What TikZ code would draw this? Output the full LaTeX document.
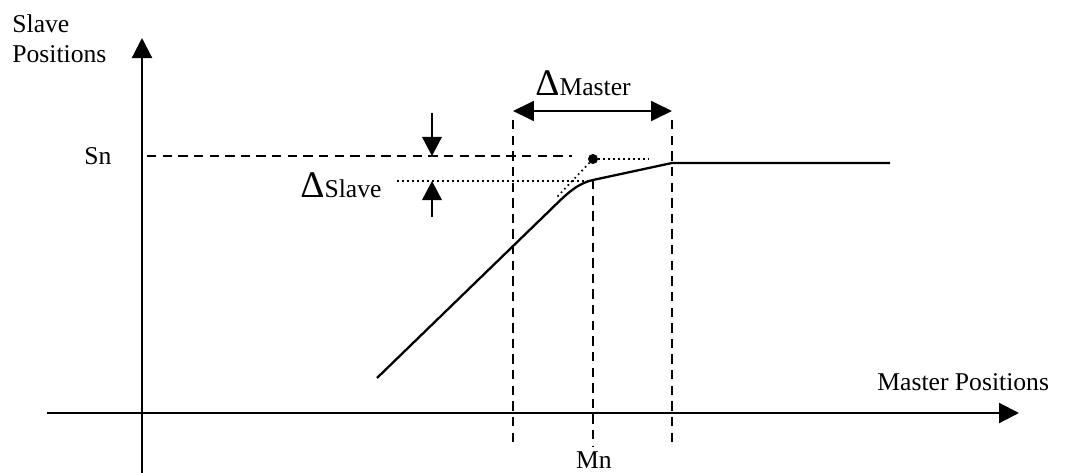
\documentclass[tikz,border=0pt]{standalone}
\usepackage{fontspec}
\setmainfont{Liberation Serif}
\usetikzlibrary{arrows.meta}
\tikzset{
  axis/.style={line width=1pt,-{Triangle[length=9.6pt,width=9.6pt]}},
  dimarrow/.style={line width=1pt,-{Triangle[length=9.2pt,width=9.4pt]}},
  dasheddim/.style={line width=0.9pt,dash pattern=on 4.5pt off 3pt},
  dotline/.style={line width=0.8pt,dash pattern=on 0.8pt off 1.6pt},
  curve/.style={line width=1.1pt,line join=round},
  lbl/.style={inner sep=0pt,anchor=base west,font=\fontsize{12.3}{15}\selectfont},
}
\newcommand{\bigdelta}{{\fontsize{18}{20}\selectfont Δ}}
\begin{document}
\begin{tikzpicture}[x=0.48pt,y=-0.48pt]
\useasboundingbox (0,0) rectangle (1065,473);
% coordinates
\coordinate (xs) at (47,413);
\coordinate (xe) at (1019,413);
\coordinate (ys) at (142,473);
\coordinate (ye) at (142,38);
\coordinate (d1t) at (513,120);
\coordinate (d1b) at (513,447);
\coordinate (d2t) at (593,180);
\coordinate (d2b) at (593,447);
\coordinate (d3t) at (672,120);
\coordinate (d3b) at (672,447);
\coordinate (sns) at (147,156);
\coordinate (sne) at (572,156);
\coordinate (dots) at (397,181);
\coordinate (dote) at (593,181);
\coordinate (pt) at (593,159);
\coordinate (pte) at (649,159);
\coordinate (ptd) at (557,197);
\coordinate (c0) at (377,378);
\coordinate (c1) at (543,217);
\coordinate (c2) at (593,180);
\coordinate (c3) at (672,163);
\coordinate (c4) at (890,163);
\coordinate (ma) at (513,111);
\coordinate (mb) at (672,111);
\coordinate (ua) at (432,113);
\coordinate (ub) at (432,156);
\coordinate (la) at (432,217);
\coordinate (lb) at (432,181);
% axes
\draw[axis] (xs) -- (xe);
\draw[axis] (ys) -- (ye);
% dashed guides
\draw[dasheddim] (d1t) -- (d1b);
\draw[dasheddim] (d2t) -- (d2b);
\draw[dasheddim] (d3t) -- (d3b);
\draw[dasheddim] (sns) -- (sne);
% dotted guides
\draw[dotline] (dots) -- (dote);
\draw[dotline] (pt) -- (pte);
\draw[dotline] (pt) -- (ptd);
\fill (pt) circle[radius=5];
% profile curve
\draw[curve] (c0) -- (c1) .. controls (563,198) and (574,184.3) .. (c2) -- (c3) -- (c4);
% dimension arrows
\draw[dimarrow,{Triangle[length=10pt,width=9.4pt]}-{Triangle[length=10pt,width=9.4pt]},line width=1.4pt] (ma) -- (mb);
\draw[dimarrow] (ua) -- (ub);
\draw[dimarrow] (la) -- (lb);
% labels
\node[lbl] (slave) at (12,32) {Slave};
\node[lbl] (pos) at (12,63) {Positions};
\node[lbl] (sn) at (84,165) {Sn};
\node[lbl] (dmaster) at (535,95) {\bigdelta Master};
\node[lbl] (dslave) at (300,197) {\bigdelta Slave};
\node[lbl,anchor=base] (mn) at (594,468) {Mn};
\node[lbl] (mpos) at (877,390) {Master Positions};
\end{tikzpicture}
\end{document}
